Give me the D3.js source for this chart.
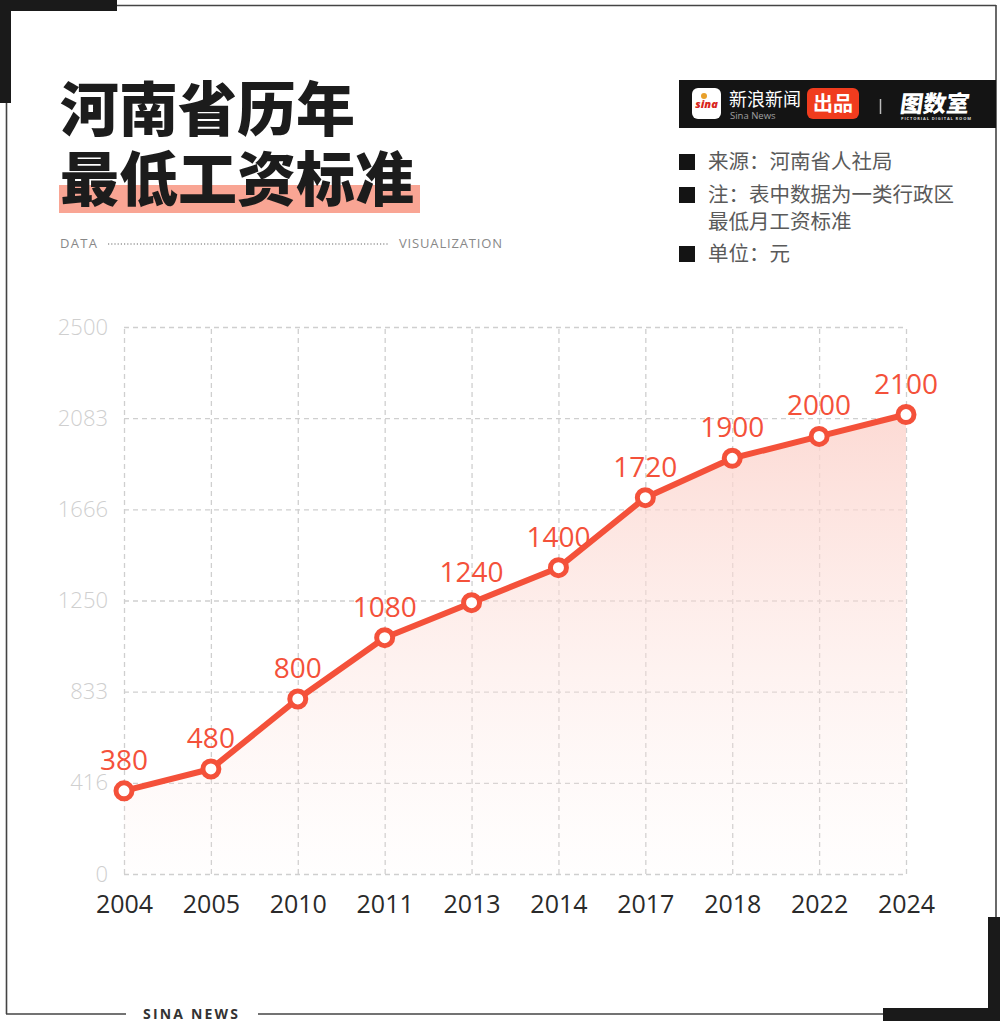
<!DOCTYPE html>
<html>
<head>
<meta charset="utf-8">
<script src="https://cdn.jsdelivr.net/npm/d3@7"></script>
<style>
  html, body { margin: 0; padding: 0; background: #fff; }
  svg { display: block; }
  .grid line { stroke: #cfcfcf; stroke-dasharray: 5,4; stroke-width: 1.3; }
  .grid .domain { display: none; }
</style>
</head>
<body>
<div id="chart"></div>
<script>
// data
var years = ["2004", "2005", "2010", "2011", "2013", "2014", "2017", "2018", "2022", "2024"];
var wages = [380, 480, 800, 1080, 1240, 1400, 1720, 1900, 2000, 2100];
var yTicks = [0, 2500 / 6, 2500 / 3, 1250, 5000 / 3, 12500 / 6, 2500];
var yTickLabels = ["0", "416", "833", "1250", "1666", "2083", "2500"];
var notes = [["来源：河南省人社局"], ["注：表中数据为一类行政区", "最低月工资标准"], ["单位：元"]];

var W = 1000, H = 1021;
var red = "#f4513a";
var cjk = "'Noto Sans CJK SC', 'Noto Sans', sans-serif";
var num = "'Open Sans', 'Noto Sans', sans-serif";

var svg = d3.select("#chart").append("svg")
  .attr("width", W)
  .attr("height", H);

//Frame
var frame = svg.append("g").attr("stroke", "#444").attr("stroke-width", 1.6).attr("fill", "none");
frame.append("line").attr("x1", 110).attr("y1", 5.5).attr("x2", 996).attr("y2", 5.5);
frame.append("line").attr("x1", 996).attr("y1", 5).attr("x2", 996).attr("y2", 920);
frame.append("line").attr("x1", 6.5).attr("y1", 57).attr("x2", 6.5).attr("y2", 1014);
frame.append("line").attr("x1", 6).attr("y1", 1014).attr("x2", 126).attr("y2", 1014);
frame.append("line").attr("x1", 258).attr("y1", 1014).attr("x2", 890).attr("y2", 1014);

svg.append("rect").attr("x", 0).attr("y", 0).attr("width", 117).attr("height", 11).attr("fill", "#1a1a1a");
svg.append("rect").attr("x", 0).attr("y", 0).attr("width", 11).attr("height", 103).attr("fill", "#1a1a1a");
svg.append("rect").attr("x", 988).attr("y", 917).attr("width", 12).attr("height", 104).attr("fill", "#1a1a1a");
svg.append("rect").attr("x", 883).attr("y", 1008).attr("width", 117).attr("height", 13).attr("fill", "#1a1a1a");

svg.append("text")
  .attr("x", 143).attr("y", 1019)
  .attr("textLength", 95)
  .style("font-family", num).style("font-weight", 700).style("font-size", "14px")
  .attr("fill", "#333")
  .text("SINA  NEWS");

//Title
svg.append("rect").attr("x", 59).attr("y", 185).attr("width", 361).attr("height", 28).attr("fill", "#f9a594");
svg.append("text").attr("x", 60).attr("y", 131)
  .style("font-family", cjk).style("font-weight", 900).style("font-size", "59px")
  .attr("fill", "#1c1c1c").text("河南省历年");
svg.append("text").attr("x", 60).attr("y", 201)
  .style("font-family", cjk).style("font-weight", 900).style("font-size", "59px")
  .attr("fill", "#1c1c1c").text("最低工资标准");

svg.append("text").attr("x", 60).attr("y", 248)
  .attr("textLength", 37)
  .style("font-family", num).style("font-size", "13px").attr("fill", "#888").text("DATA");
svg.append("line").attr("x1", 108).attr("y1", 244).attr("x2", 388).attr("y2", 244)
  .attr("stroke", "#999").attr("stroke-width", 1.5).attr("stroke-dasharray", "1.2,2");
svg.append("text").attr("x", 399).attr("y", 248)
  .attr("textLength", 103)
  .style("font-family", num).style("font-size", "13px").attr("fill", "#888").text("VISUALIZATION");

//Logo banner
var banner = svg.append("g");
banner.append("rect").attr("x", 679).attr("y", 80).attr("width", 317).attr("height", 48).attr("fill", "#141414");
banner.append("rect").attr("x", 692).attr("y", 88).attr("width", 29).attr("height", 31).attr("rx", 6).attr("fill", "#fff");
banner.append("text").attr("x", 706.5).attr("y", 108).attr("text-anchor", "middle")
  .style("font-family", num).style("font-style", "italic").style("font-weight", 800).style("font-size", "11px")
  .attr("fill", "#d9261c").text("sina");
banner.append("circle").attr("cx", 704).attr("cy", 96).attr("r", 3).attr("fill", "#e8a02a");
banner.append("text").attr("x", 729).attr("y", 106)
  .style("font-family", cjk).style("font-size", "18px").attr("fill", "#fff").text("新浪新闻");
banner.append("text").attr("x", 730).attr("y", 119)
  .style("font-family", num).style("font-size", "9.5px").attr("fill", "#a0a0a0").text("Sina News");
banner.append("rect").attr("x", 807).attr("y", 88).attr("width", 52).attr("height", 31).attr("rx", 6).attr("fill", "#f03c1e");
banner.append("text").attr("x", 833).attr("y", 111).attr("text-anchor", "middle")
  .style("font-family", cjk).style("font-weight", 700).style("font-size", "20px").attr("fill", "#fff").text("出品");
banner.append("line").attr("x1", 880.5).attr("y1", 99).attr("x2", 880.5).attr("y2", 114)
  .attr("stroke", "#bbb").attr("stroke-width", 1.5);
banner.append("text").attr("x", 901).attr("y", 112)
  .attr("transform", "skewX(-8)").attr("dx", 14)
  .style("font-family", cjk).style("font-weight", 900).style("font-size", "23px").attr("fill", "#fff").text("图数室");
banner.append("text").attr("x", 901).attr("y", 120)
  .attr("textLength", 70)
  .style("font-family", num).style("font-weight", 700).style("font-size", "4px").attr("fill", "#ddd")
  .text("PICTORIAL DIGITAL ROOM");

//Notes
var noteY = [162, 195, 254];
notes.forEach(function(lines, i) {
  svg.append("rect").attr("x", 679).attr("y", noteY[i] - 8).attr("width", 16).attr("height", 16).attr("fill", "#141414");
  lines.forEach(function(t, j) {
    svg.append("text").attr("x", 708).attr("y", noteY[i] + 7 + j * 27)
      .style("font-family", cjk).style("font-size", "20.5px").attr("fill", "#5a5a5a").text(t);
  });
});

//Chart area bounds
var plotLeft = 124, plotRight = 906, plotTop = 327, plotBottom = 874;

var x = d3.scalePoint().domain(years).range([plotLeft, plotRight]).padding(0);
var y = d3.scaleLinear().domain([0, 2500]).range([plotBottom, plotTop]);

var yAxis = d3.axisLeft(y)
  .tickValues(yTicks)
  .tickSize(-(plotRight - plotLeft))
  .tickPadding(16)
  .tickFormat(function(d, i) { return yTickLabels[i]; });

var xAxis = d3.axisBottom(x)
  .tickSize(-(plotBottom - plotTop))
  .tickPadding(21);

var gy = svg.append("g").attr("class", "grid")
  .attr("transform", "translate(" + plotLeft + ",0)")
  .call(yAxis);
gy.selectAll("text")
  .style("font-family", num).style("font-weight", 300).style("font-size", "22px").attr("fill", "#cfcfcf");

var gx = svg.append("g").attr("class", "grid")
  .attr("transform", "translate(0," + plotBottom + ")")
  .call(xAxis);
gx.selectAll("text")
  .style("font-family", num).style("font-size", "25px").attr("fill", "#2a2a2a");

// gradient for area
var grad = svg.append("defs").append("linearGradient")
  .attr("id", "areaGrad")
  .attr("gradientUnits", "userSpaceOnUse")
  .attr("x1", 0).attr("y1", y(2100)).attr("x2", 0).attr("y2", plotBottom);
grad.append("stop").attr("offset", "0%").attr("stop-color", "#fcd4cd").attr("stop-opacity", 0.85);
grad.append("stop").attr("offset", "100%").attr("stop-color", "#fde9e5").attr("stop-opacity", 0.05);

var pts = years.map(function(d, i) { return { year: d, value: wages[i] }; });

var area = d3.area()
  .x(function(d) { return x(d.year); })
  .y0(plotBottom)
  .y1(function(d) { return y(d.value); });

var line = d3.line()
  .x(function(d) { return x(d.year); })
  .y(function(d) { return y(d.value); });

svg.append("path").datum(pts).attr("d", area).attr("fill", "url(#areaGrad)");

svg.append("path").datum(pts).attr("d", line)
  .attr("fill", "none").attr("stroke", red).attr("stroke-width", 6)
  .attr("stroke-linejoin", "round");

svg.selectAll(".pt")
  .data(pts)
  .enter()
  .append("circle")
  .attr("class", "pt")
  .attr("cx", function(d) { return x(d.year); })
  .attr("cy", function(d) { return y(d.value); })
  .attr("r", 8)
  .attr("fill", "#fff")
  .attr("stroke", red)
  .attr("stroke-width", 5);

svg.selectAll(".lbl")
  .data(pts)
  .enter()
  .append("text")
  .attr("class", "lbl")
  .attr("x", function(d) { return x(d.year); })
  .attr("y", function(d) { return y(d.value) - 21; })
  .attr("text-anchor", "middle")
  .style("font-family", num).style("font-weight", 500).style("font-size", "28px")
  .attr("fill", red)
  .text(function(d) { return d.value; });
</script>
</body>
</html>
